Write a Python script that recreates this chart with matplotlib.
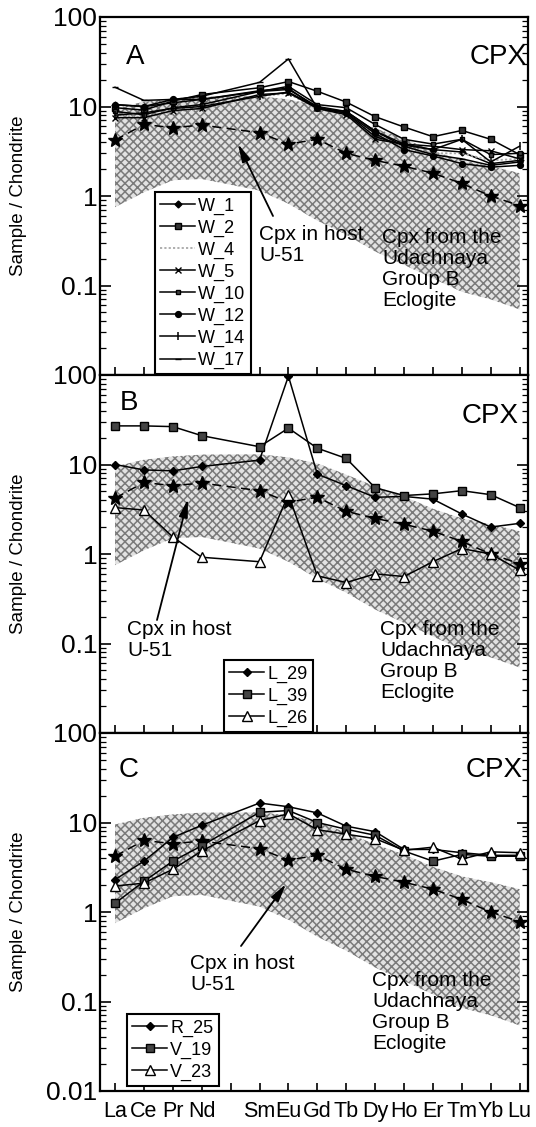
import matplotlib
matplotlib.use("Agg")
import matplotlib.pyplot as plt
from matplotlib.ticker import FixedLocator, LogLocator, NullFormatter, FuncFormatter
import numpy as np

plt.rcParams['font.family'] = ['Liberation Sans', 'DejaVu Sans']
plt.rcParams['hatch.linewidth'] = 1.1

# ---- REE order (Pm slot left empty) ----
ree_labels = ['La', 'Ce', 'Pr', 'Nd', '', 'Sm', 'Eu', 'Gd', 'Tb', 'Dy', 'Ho', 'Er', 'Tm', 'Yb', 'Lu']
elem_x = [0, 1, 2, 3, 5, 6, 7, 8, 9, 10, 11, 12, 13, 14]

# ---- Udachnaya Group B eclogite cpx field ----
band_upper = [9.5, 11.3, 12.3, 12.9, 13.0, 12.0, 10.3, 7.7, 5.7, 4.4, 3.2, 2.5, 2.15, 1.8]
band_lower = [0.75, 1.1, 1.5, 1.55, 1.15, 0.82, 0.53, 0.37, 0.24, 0.17, 0.12, 0.085, 0.07, 0.054]

# ---- host cpx U-51 ----
host_u51 = [4.2, 6.3, 5.8, 6.2, 5.1, 3.8, 4.3, 3.0, 2.5, 2.15, 1.8, 1.38, 1.0, 0.78]

# ---- panel A: W series ----
w_1 = [10.5, 10.0, 11.0, 12.0, 14.7, 15.5, 10.0, 8.8, 5.3, 3.8, 3.3, 3.1, 2.3, 2.5]
w_2 = [9.7, 9.1, 11.5, 13.6, 16.2, 19.0, 14.8, 11.2, 7.7, 5.9, 4.6, 5.4, 4.3, 2.9]
w_4 = [8.1, 7.5, 8.8, 9.3, 13.0, 14.0, 9.3, 8.1, 4.9, 3.5, 3.0, 3.0, 2.5, 2.6]
w_5 = [7.5, 7.5, 9.0, 9.5, 13.6, 14.2, 9.5, 8.1, 4.3, 3.8, 3.6, 3.3, 3.2, 2.6]
w_10 = [8.8, 8.1, 9.7, 10.5, 14.7, 16.8, 10.5, 9.7, 6.3, 4.3, 3.8, 4.3, 2.9, 3.0]
w_12 = [10.5, 10.0, 12.0, 12.0, 15.0, 16.0, 9.5, 8.5, 5.0, 3.3, 2.8, 2.3, 2.1, 2.2]
w_14 = [8.0, 8.5, 9.5, 10.0, 13.0, 14.5, 9.8, 8.4, 4.6, 3.7, 3.3, 4.3, 2.4, 3.6]
w_17 = [16.4, 11.7, 12.0, 13.0, 18.6, 34.0, 9.5, 8.8, 5.3, 3.6, 2.9, 2.6, 2.2, 2.4]

# ---- panel B: L series ----
l_29 = [10.0, 8.7, 8.5, 9.5, 11.2, 97.0, 7.8, 5.8, 4.3, 4.4, 4.1, 2.8, 2.0, 2.2]
l_39 = [27.0, 27.0, 26.5, 21.0, 15.8, 25.5, 15.2, 11.7, 5.5, 4.5, 4.7, 5.1, 4.6, 3.3]
l_26 = [3.3, 3.1, 1.55, 0.92, 0.82, 4.6, 0.57, 0.48, 0.6, 0.56, 0.82, 1.15, 1.0, 0.66]

# ---- panel C: R / V series ----
r_25 = [2.3, 3.7, 6.8, 9.3, 16.5, 15.0, 12.8, 9.1, 7.9, 5.0, 5.0, 4.6, 4.3, 4.3]
v_19 = [1.25, 2.2, 3.7, 5.5, 13.0, 13.6, 10.0, 8.4, 7.2, 4.8, 3.7, 4.4, 4.2, 4.2]
v_23 = [1.95, 2.1, 3.0, 4.8, 10.5, 12.5, 8.3, 7.4, 6.6, 4.9, 5.3, 3.9, 4.7, 4.6]

W, H = 536, 1127
fig = plt.figure(figsize=(W / 100, H / 100), dpi=100)

AX_L, AX_R = 100, 528
PANEL_H = 358
tops = [17, 375, 733]


def add_panel(top):
    rect = [AX_L / W, 1 - (top + PANEL_H) / H, (AX_R - AX_L) / W, PANEL_H / H]
    return fig.add_axes(rect)


def fx(px):
    return (px - AX_L) / (AX_R - AX_L)


def fy(py, top):
    return 1 - (py - top) / PANEL_H


def tick_fmt(v, pos):
    if v >= 1:
        return '%d' % round(v)
    return ('%.2f' % v).rstrip('0') if v < 0.1 else '0.1'


def style_axes(ax, show_bottom_label, show_xlabels):
    ax.set_yscale('log')
    ax.set_ylim(0.01, 100)
    ax.set_xlim(-0.52, 14.29)
    ax.xaxis.set_major_locator(FixedLocator(range(15)))
    if show_xlabels:
        ax.set_xticklabels(ree_labels, fontsize=15.5)
    else:
        ax.set_xticklabels([''] * 15)
    ax.tick_params(axis='x', direction='in', length=6, width=1.2, pad=7, bottom=True, top=False)
    ax.yaxis.set_major_locator(FixedLocator([0.01, 0.1, 1, 10, 100]))
    ax.yaxis.set_minor_locator(LogLocator(base=10, subs=np.arange(2, 10)))
    ax.yaxis.set_minor_formatter(NullFormatter())

    def fmt(v, pos):
        if v < 0.05 and not show_bottom_label:
            return ''
        return tick_fmt(v, pos)

    ax.yaxis.set_major_formatter(FuncFormatter(fmt))
    ax.tick_params(axis='y', which='major', direction='in', length=8, width=1.2,
                   labelsize=19, pad=2, left=True, right=True)
    ax.tick_params(axis='y', which='minor', direction='in', length=4, width=0.9,
                   left=True, right=True)
    for s in ax.spines.values():
        s.set_linewidth(1.6)
    ax.set_ylabel('Sample / Chondrite', fontsize=13.5)
    ax.yaxis.set_label_coords(fx(27), 0.5)


def draw_band(ax):
    ax.fill_between(elem_x, band_lower, band_upper, facecolor='#e2e2e2',
                    edgecolor='#7a7a7a', hatch='xxxx', linewidth=0, zorder=1)


def draw_host(ax):
    ax.plot(elem_x, host_u51, color='black', lw=1.1, dashes=(6, 3.5), marker='*',
            ms=10, mfc='black', mec='black', zorder=4)


def add_notes(ax, top, host_xy, udach_xy, tail, tip):
    ax.text(fx(host_xy[0]), fy(host_xy[1], top), 'Cpx in host\nU-51', transform=ax.transAxes,
            fontsize=15, ha='left', va='center', linespacing=1.13, zorder=6)
    ax.text(fx(udach_xy[0]), fy(udach_xy[1], top), 'Cpx from the\nUdachnaya\nGroup B\nEclogite',
            transform=ax.transAxes, fontsize=15, ha='left', va='center', linespacing=1.13, zorder=6)
    ax.annotate('', xy=(fx(tip[0]), fy(tip[1], top)), xycoords='axes fraction',
                xytext=(fx(tail[0]), fy(tail[1], top)), textcoords='axes fraction',
                arrowprops=dict(arrowstyle='-|>,head_length=0.9,head_width=0.22',
                                color='black', lw=1.3, mutation_scale=12,
                                shrinkA=0, shrinkB=0), zorder=6)


def panel_labels(ax, top, letter, letter_xy, cpx_xy):
    ax.text(fx(letter_xy[0]), fy(letter_xy[1], top), letter, transform=ax.transAxes,
            fontsize=20, ha='left', va='top', zorder=6)
    ax.text(fx(cpx_xy[0]), fy(cpx_xy[1], top), 'CPX', transform=ax.transAxes,
            fontsize=20, ha='right', va='top', zorder=6)


def add_legend(ax, top, x_px, y_px):
    leg = ax.legend(loc='upper left', bbox_to_anchor=(fx(x_px), fy(y_px, top)),
                    borderaxespad=0, fontsize=13, frameon=True, fancybox=False,
                    framealpha=1, edgecolor='black', handlelength=1.9,
                    handletextpad=0.2, labelspacing=0.27, borderpad=0.3)
    leg.get_frame().set_linewidth(1.5)
    leg.set_zorder(7)


line_kw = dict(color='black', lw=1.1, zorder=5)

# ---- Panel A ----
axA = add_panel(tops[0])
style_axes(axA, show_bottom_label=False, show_xlabels=False)
draw_band(axA)
draw_host(axA)
axA.plot(elem_x, w_1, marker='D', ms=3.5, mfc='black', mec='black', label='W_1', **line_kw)
axA.plot(elem_x, w_2, marker='s', ms=5, mfc='#333333', mec='black', label='W_2', **line_kw)
axA.plot(elem_x, w_4, color='#a8a8a8', lw=1.3, ls=(0, (1.2, 1.2)), label='W_4', zorder=5)
axA.plot(elem_x, w_5, marker='x', ms=4.5, mew=1.0, mec='black', label='W_5', **line_kw)
axA.plot(elem_x, w_10, marker='s', ms=3.2, mfc='#444444', mec='black', label='W_10', **line_kw)
axA.plot(elem_x, w_12, marker='o', ms=4.2, mfc='black', mec='black', label='W_12', **line_kw)
axA.plot(elem_x, w_14, marker='|', ms=6, mew=1.1, mec='black', label='W_14', **line_kw)
axA.plot(elem_x, w_17, marker='_', ms=4, mew=1.0, mec='black', label='W_17', **line_kw)
panel_labels(axA, tops[0], 'A', (126, 44), (527, 44))
add_notes(axA, tops[0], (259, 245), (382, 269), (273, 216), (238, 144))
add_legend(axA, tops[0], 155, 192)

# ---- Panel B ----
axB = add_panel(tops[1])
style_axes(axB, show_bottom_label=False, show_xlabels=False)
draw_band(axB)
draw_host(axB)
axB.plot(elem_x, l_29, marker='D', ms=4.5, mfc='black', mec='black', label='L_29', **line_kw)
axB.plot(elem_x, l_39, marker='s', ms=5.5, mfc='#444444', mec='black', label='L_39', **line_kw)
axB.plot(elem_x, l_26, marker='^', ms=6.5, mfc='white', mec='black', mew=1.0, label='L_26', **line_kw)
panel_labels(axB, tops[1], 'B', (120, 390), (519, 403))
add_notes(axB, tops[1], (127, 640), (380, 661), (157, 620), (188, 499))
add_legend(axB, tops[1], 224, 660)

# ---- Panel C ----
axC = add_panel(tops[2])
style_axes(axC, show_bottom_label=True, show_xlabels=True)
draw_band(axC)
draw_host(axC)
axC.plot(elem_x, r_25, marker='D', ms=4.5, mfc='black', mec='black', label='R_25', **line_kw)
axC.plot(elem_x, v_19, marker='s', ms=5.5, mfc='#444444', mec='black', label='V_19', **line_kw)
axC.plot(elem_x, v_23, marker='^', ms=6.5, mfc='white', mec='black', mew=1.0, label='V_23', **line_kw)
panel_labels(axC, tops[2], 'C', (119, 757), (523, 757))
add_notes(axC, tops[2], (190, 974), (372, 1012), (241, 946), (286, 884))
add_legend(axC, tops[2], 127, 1014)

fig.savefig('out.png', dpi=100)
